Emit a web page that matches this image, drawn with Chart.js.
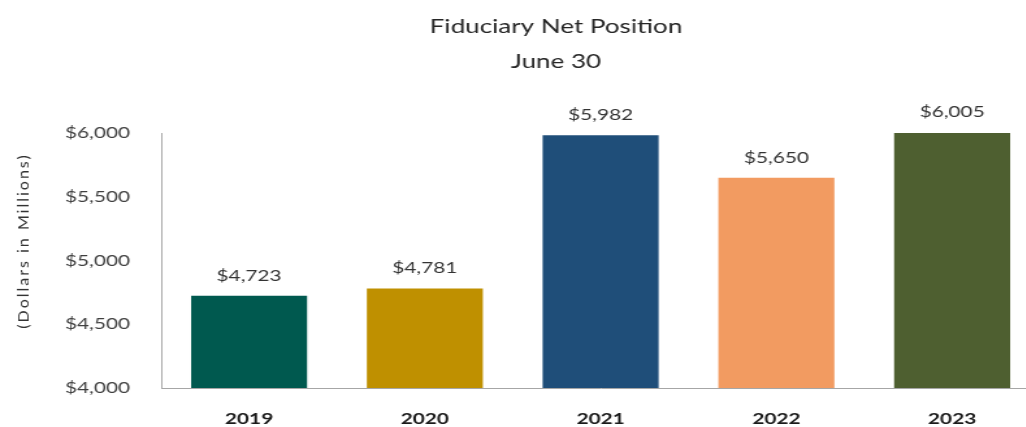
<!DOCTYPE html>
<html><head><meta charset="utf-8">
<script src="https://cdn.jsdelivr.net/npm/chart.js@4.4.0/dist/chart.umd.min.js"></script>
<style>
html,body{margin:0;padding:0;overflow:hidden;background:#fff;width:1026px;height:427px}
#wrap{width:800px;height:427px;transform:scaleX(1.3);transform-origin:0 0;}
canvas{display:block}
</style></head><body>
<div id="wrap"><canvas id="c" width="800" height="427"></canvas></div>
<script>
const STRETCH = 1.3;
const titleLines = ['Fiduciary Net Position', 'June 30'];
const yAxisTitle = '(Dollars in Millions)';
const years = ['2019', '2020', '2021', '2022', '2023'];
const netPosition = [4723, 4781, 5982, 5650, 6005];
const barColors = ['#00594f', '#bf9000', '#1f4e79', '#f29b61', '#4e5f30'];
const yMin = 4000, yMax = 6000, yStep = 500;

const money = v => '$' + Number(v).toLocaleString('en-US');

const decor = {
  id: 'decor',
  afterDraw(chart) {
    const ctx = chart.ctx;
    // Title
    ctx.save();
    ctx.fillStyle = '#262626';
    ctx.font = '20px Lato';
    ctx.textAlign = 'center';
    ctx.textBaseline = 'alphabetic';
    const tx = 556 / STRETCH;
    ctx.fillText(titleLines[0], tx, 33);
    ctx.fillText(titleLines[1], tx, 68);
    ctx.restore();
    // Y axis title (drawn unstretched)
    ctx.save();
    ctx.translate(23 / STRETCH, 241);
    ctx.scale(1 / STRETCH, 1);
    ctx.rotate(-Math.PI / 2);
    ctx.fillStyle = '#333333';
    ctx.font = '16px Lato';
    try { ctx.letterSpacing = '2px'; } catch (e) {}
    ctx.textAlign = 'center';
    ctx.textBaseline = 'middle';
    ctx.fillText(yAxisTitle, 0, 0);
    ctx.restore();
    // Data labels
    const meta = chart.getDatasetMeta(0);
    ctx.save();
    ctx.fillStyle = '#333333';
    ctx.font = '16px Lato';
    ctx.textAlign = 'center';
    ctx.textBaseline = 'alphabetic';
    meta.data.forEach((el, i) => {
      ctx.fillText(money(netPosition[i]), el.x, el.y - 15);
    });
    ctx.restore();
  }
};

new Chart(document.getElementById('c'), {
  type: 'bar',
  data: {
    labels: years,
    datasets: [{
      data: netPosition,
      backgroundColor: barColors,
      borderWidth: 0,
      barPercentage: 0.66,
      categoryPercentage: 1
    }]
  },
  options: {
    responsive: false,
    animation: false,
    devicePixelRatio: 1,
    layout: { padding: { top: 133, left: 50, right: 0, bottom: 0 } },
    plugins: { legend: { display: false }, tooltip: { enabled: false }, title: { display: false } },
    scales: {
      x: {
        grid: { display: false },
        border: { display: true, color: '#a6a6a6', width: 1 },
        ticks: { font: { family: 'Lato', size: 16, weight: 'bold' }, color: '#1a1a1a', padding: 13 },
        afterFit(scale) { scale.height = 39; }
      },
      y: {
        min: yMin, max: yMax,
        grid: { display: false, drawTicks: false },
        border: { display: true, color: '#a6a6a6', width: 1 },
        ticks: {
          stepSize: yStep,
          font: { family: 'Lato', size: 16 },
          color: '#404040',
          padding: 24,
          callback: v => money(v)
        },
        afterFit(scale) { scale.width = 74; }
      }
    }
  },
  plugins: [decor]
});
</script>
</body></html>
